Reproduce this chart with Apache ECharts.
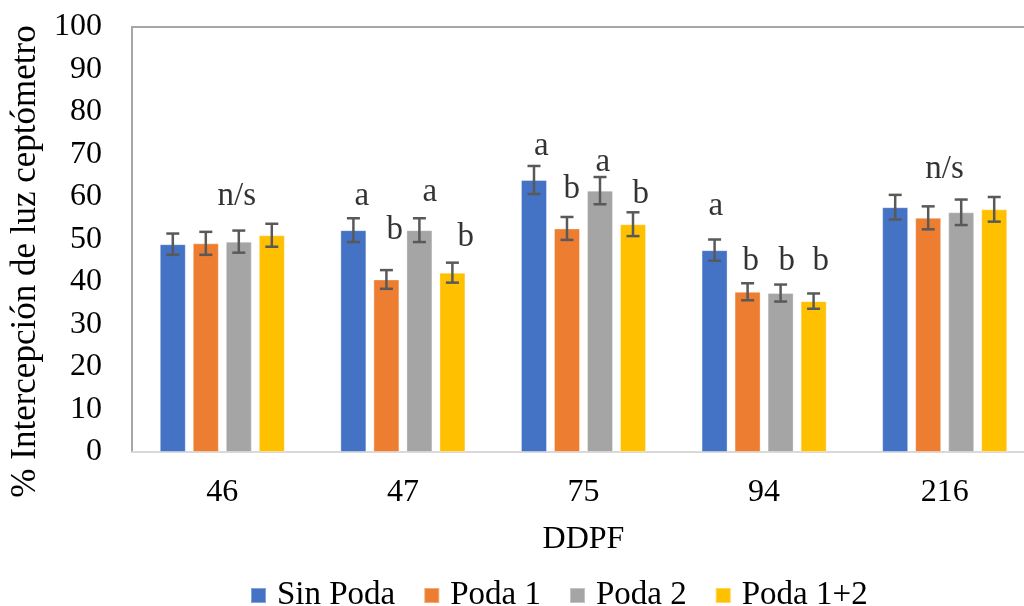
<!DOCTYPE html>
<html>
<head>
<meta charset="utf-8">
<script src="https://cdn.jsdelivr.net/npm/echarts@6/dist/echarts.min.js"></script>
<style>html,body{margin:0;padding:0;background:#fff;overflow:hidden;width:1024px;height:606px}#c{width:1040px;height:606px}</style>
</head>
<body>
<div id="c"></div>
<script>
const categories = ['46', '47', '75', '94', '216'];
const seriesNames = ['Sin Poda', 'Poda 1', 'Poda 2', 'Poda 1+2'];
const sinPoda = [48.9, 52.2, 64.0, 47.5, 57.6];
const poda1 = [49.1, 40.6, 52.6, 37.7, 55.1];
const poda2 = [49.5, 52.2, 61.5, 37.4, 56.4];
const poda12 = [51.0, 42.2, 53.6, 35.5, 57.1];
const errSinPoda = [2.5, 2.8, 3.3, 2.5, 2.9];
const errPoda1 = [2.7, 2.2, 2.7, 2.0, 2.7];
const errPoda2 = [2.6, 2.8, 3.2, 2.0, 3.0];
const errPoda12 = [2.7, 2.35, 2.8, 1.8, 2.9];
const yTicks = [0, 10, 20, 30, 40, 50, 60, 70, 80, 90, 100];
// significance letters: [category position, value position, text]
const annotPos = [0.08, 0.772, 0.955, 1.149, 1.348, 1.766, 1.935, 2.107, 2.317, 2.733, 2.926, 3.126, 3.314, 3.999];
const annotVal = [60.2, 60.2, 52.2, 61.2, 50.6, 72.0, 61.9, 68.2, 60.7, 57.9, 44.9, 44.9, 44.9, 66.6];
const annotText = ['n/s', 'a', 'b', 'a', 'b', 'a', 'b', 'a', 'b', 'a', 'b', 'b', 'b', 'n/s'];

const colors = ['#4472C4', '#ED7D31', '#A5A5A5', '#FFC000'];
const values = [sinPoda, poda1, poda2, poda12];
const errors = [errSinPoda, errPoda1, errPoda2, errPoda12];
const BAR_W = 26, BAR_STEP = 33;
const FONT = '"Liberation Serif", "Times New Roman", serif';

const chart = echarts.init(document.getElementById('c'), null, {renderer: 'canvas'});

const series = [];
values.forEach((vals, si) => {
  series.push({
    name: seriesNames[si], type: 'bar', data: vals, barWidth: BAR_W, barGap: '27%',
    itemStyle: {color: colors[si], borderColor: 'rgba(255,255,255,0.35)', borderWidth: 1},
    z: 2
  });
});
values.forEach((vals, si) => {
  const offset = (si - 1.5) * BAR_STEP;
  series.push({
    type: 'custom', z: 5, silent: true,
    data: vals.map((v, i) => [i, v, errors[si][i]]),
    encode: {x: 0, y: 1},
    renderItem: function (params, api) {
      const c = api.value(0), v = api.value(1), e = api.value(2);
      const top = api.coord([c, v + e]);
      const bot = api.coord([c, v - e]);
      const x = top[0] + offset;
      const st = {stroke: '#595959', lineWidth: 2.5};
      return {type: 'group', children: [
        {type: 'line', shape: {x1: x, y1: top[1], x2: x, y2: bot[1]}, style: st},
        {type: 'line', shape: {x1: x - 6.5, y1: top[1], x2: x + 6.5, y2: top[1]}, style: st},
        {type: 'line', shape: {x1: x - 6.5, y1: bot[1], x2: x + 6.5, y2: bot[1]}, style: st}
      ]};
    }
  });
});
series.push({
  type: 'scatter', xAxisIndex: 1, yAxisIndex: 0, symbolSize: 0, silent: true, z: 6,
  data: annotPos.map((p, i) => [p, annotVal[i], annotText[i]]),
  label: {show: true, position: 'inside', formatter: p => p.data[2],
    color: '#000', fontFamily: FONT, fontSize: 33, verticalAlign: 'middle', align: 'center'}
});

chart.setOption({
  animation: false,
  backgroundColor: '#fff',
  grid: {left: 132, top: 27, width: 903, height: 425, show: true, borderColor: '#a6a6a6', borderWidth: 2, containLabel: false},
  legend: {
    data: seriesNames, left: 245, top: 574, itemWidth: 15, itemHeight: 15, itemGap: 28, icon: 'rect',
    textStyle: {fontFamily: FONT, fontSize: 33, color: '#000', padding: [0, 0, 0, 6]}
  },
  xAxis: [{
    type: 'category', data: categories,
    axisLine: {show: true, lineStyle: {color: '#d9d9d9', width: 2}},
    axisTick: {show: false},
    axisLabel: {fontFamily: FONT, fontSize: 32, color: '#000', margin: 25},
    name: 'DDPF', nameLocation: 'middle', nameGap: 72,
    nameTextStyle: {fontFamily: FONT, fontSize: 32, color: '#000'}
  }, {
    type: 'value', min: -0.5, max: 4.5, show: false
  }],
  yAxis: {
    type: 'value', min: 0, max: 100, interval: 10,
    axisLine: {show: false}, axisTick: {show: false}, splitLine: {show: false},
    axisLabel: {fontFamily: FONT, fontSize: 32, color: '#000', margin: 30,
      formatter: v => yTicks.includes(v) ? String(v) : ''},
    name: '% Intercepción de luz ceptómetro', nameLocation: 'middle', nameGap: 80,
    nameTextStyle: {fontFamily: FONT, fontSize: 35, color: '#000', padding: [0, 44, 0, 0]}
  },
  series: series
});
</script>
</body>
</html>
